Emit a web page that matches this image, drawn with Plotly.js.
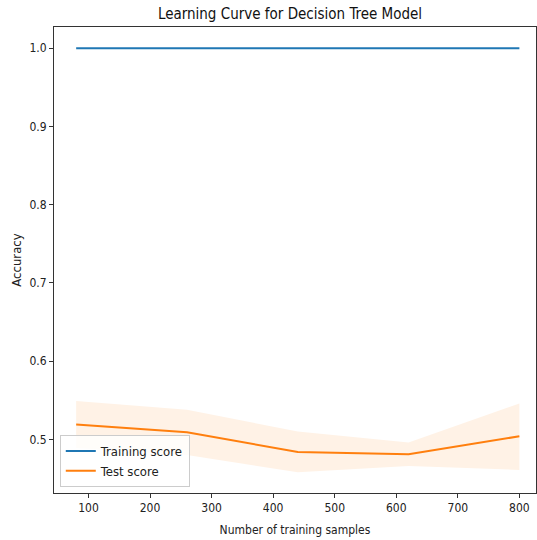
<!DOCTYPE html>
<html>
<head>
<meta charset="utf-8">
<script src="https://cdn.plot.ly/plotly-3.0.1.min.js"></script>
<style>html,body{margin:0;padding:0;background:#fff;}#chart{width:537px;height:540px;}</style>
</head>
<body>
<div id="chart"></div>
<script>
var trainSizes = [80, 260, 440, 620, 800];
var trainMean = [1.0, 1.0, 1.0, 1.0, 1.0];
var testMean = [0.519, 0.509, 0.484, 0.481, 0.504];
var testUpper = [0.549, 0.538, 0.510, 0.496, 0.546];
var testLower = [0.489, 0.480, 0.458, 0.466, 0.461];

var FONT = "DejaVu Sans Condensed, DejaVu Sans, sans-serif";

var bandX = trainSizes.concat(trainSizes.slice().reverse());
var bandY = testUpper.concat(testLower.slice().reverse());

var traces = [
  {x: bandX, y: bandY, type: 'scatter', mode: 'lines', fill: 'toself',
   fillcolor: 'rgba(255,127,14,0.1)', line: {width: 0, color: 'rgba(0,0,0,0)'},
   showlegend: false, hoverinfo: 'skip'},
  {x: trainSizes, y: trainMean, type: 'scatter', mode: 'lines', name: 'Training score',
   line: {color: '#1f77b4', width: 2}},
  {x: trainSizes, y: testMean, type: 'scatter', mode: 'lines', name: 'Test score',
   line: {color: '#ff7f0e', width: 2}}
];

var layout = {
  width: 537, height: 540,
  margin: {l: 54, r: 1, t: 27, b: 47, pad: 0},
  paper_bgcolor: '#fff', plot_bgcolor: '#fff',
  font: {family: FONT, size: 12, color: '#222'},
  title: {text: 'Learning Curve for Decision Tree Model', font: {family: FONT, size: 15, color: '#111'},
          x: 0.54, xanchor: 'center', y: 0.975, yanchor: 'middle'},
  xaxis: {range: [44, 827], tickvals: [100, 200, 300, 400, 500, 600, 700, 800],
          showgrid: false, zeroline: false, showline: true, mirror: true, linecolor: '#333', linewidth: 1,
          ticks: 'outside', ticklen: 4, tickcolor: '#333',
          title: {text: 'Number of training samples', font: {family: FONT, size: 12}, standoff: 11}},
  yaxis: {range: [0.4315, 1.027], tickvals: [0.5, 0.6, 0.7, 0.8, 0.9, 1.0], ticktext: ['0.5','0.6','0.7','0.8','0.9','1.0'],
          showgrid: false, zeroline: false, showline: true, mirror: true, linecolor: '#333', linewidth: 1,
          ticks: 'outside', ticklen: 4, tickcolor: '#333',
          title: {text: 'Accuracy', font: {family: FONT, size: 13}, standoff: 4}},
  legend: {x: 0.012, y: 0.013, xanchor: 'left', yanchor: 'bottom', bgcolor: 'rgba(255,255,255,0.8)',
           bordercolor: '#ccc', borderwidth: 1, font: {family: FONT, size: 13}, tracegroupgap: 0, itemwidth: 30}
};

Plotly.newPlot('chart', traces, layout, {displayModeBar: false, staticPlot: true});
</script>
</body>
</html>
